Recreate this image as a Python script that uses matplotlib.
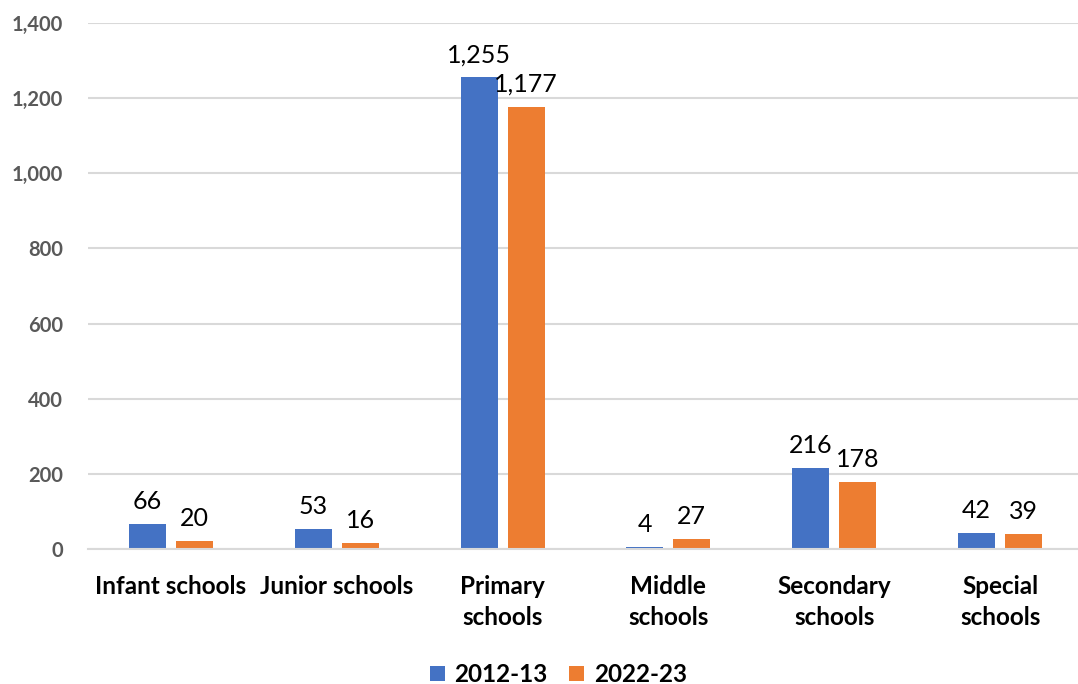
import matplotlib
matplotlib.use("Agg")
import matplotlib.pyplot as plt
import numpy as np

# Data
categories = ["Infant schools", "Junior schools", "Primary\nschools", "Middle\nschools",
              "Secondary\nschools", "Special\nschools"]
series_names = ["2012-13", "2022-23"]
values_2012 = [66, 53, 1255, 4, 216, 42]
values_2022 = [20, 16, 1177, 27, 178, 39]
y_ticks = [0, 200, 400, 600, 800, 1000, 1200, 1400]

colors = ["#4472C4", "#ED7D31"]
plt.rcParams["font.family"] = ["Lato", "DejaVu Sans"]

fig = plt.figure(figsize=(10.78, 6.84), dpi=100)
ax = fig.add_axes([88 / 1078, 1 - 549 / 684, 1 - 88 / 1078, (549 - 23) / 684])

x = np.arange(len(categories))
w = 0.223
gap = 0.06
off = (w + gap) / 2
bars1 = ax.bar(x - off, values_2012, w, color=colors[0], label=series_names[0])
bars2 = ax.bar(x + off, values_2022, w, color=colors[1], label=series_names[1])

for bars, vals in ((bars1, values_2012), (bars2, values_2022)):
    for b, v in zip(bars, vals):
        ax.annotate(f"{v:,}", (b.get_x() + b.get_width() / 2, v), xytext=(0, 8),
                    textcoords="offset points", ha="center", va="bottom",
                    fontsize=18, color="#000000")

ax.set_xlim(-0.5, 5.47)
ax.set_ylim(0, 1400)
ax.set_yticks(y_ticks)
ax.set_yticklabels([f"{t:,}" for t in y_ticks], fontsize=14.5, fontweight="bold", color="#595959")
ax.set_xticks(x)
ax.set_xticklabels(categories, fontsize=17.5, fontweight="bold", color="#000000", linespacing=1.4)
ax.tick_params(axis="both", length=0)
ax.tick_params(axis="x", pad=19)
ax.tick_params(axis="y", pad=18)

ax.grid(axis="y", color="#D9D9D9", linewidth=1.5)
ax.set_axisbelow(True)
for s in ["top", "right", "left"]:
    ax.spines[s].set_visible(False)
ax.spines["bottom"].set_color("#D9D9D9")
ax.spines["bottom"].set_linewidth(1.5)

fig.legend(loc="lower center", bbox_to_anchor=(0.518, -0.035), ncol=2, frameon=False,
           prop={"size": 17.5, "weight": "bold"}, handlelength=0.6, handleheight=0.6,
           handletextpad=0.4, columnspacing=0.9)

fig.savefig("out.png", dpi=100)
